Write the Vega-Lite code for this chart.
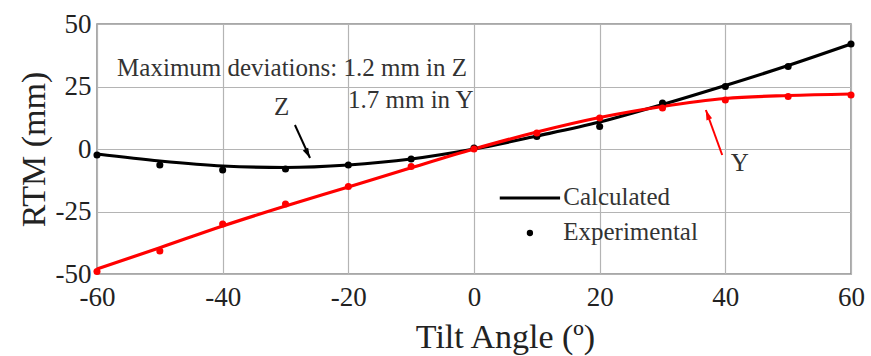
{
  "$schema": "https://vega.github.io/schema/vega-lite/v6.json",
  "width": 754,
  "height": 250,
  "autosize": "none",
  "padding": {"left": 97, "top": 24, "right": 20, "bottom": 82},
  "background": "white",
  "config": {
    "view": {"stroke": "#8c8c8c", "strokeWidth": 1.5},
    "font": "Liberation Serif",
    "axis": {
      "grid": true, "gridColor": "#b4b4b4", "gridWidth": 1.2, "gridOpacity": 1,
      "domain": false, "ticks": false,
      "labelFont": "Liberation Serif", "labelFontSize": 27, "labelColor": "#222",
      "labelFlush": false, "labelOverlap": false, "labelBound": false,
      "labelExpr": "replace(datum.label, '\u2212', '-')",
      "titleFont": "Liberation Serif", "titleFontSize": 34, "titleFontWeight": "normal", "titleColor": "#222"
    }
  },
  "datasets": {
    "calc": [
      {"angle": -60, "rtm": -2.0, "series": "Z"},
      {"angle": -50, "rtm": -4.8, "series": "Z"},
      {"angle": -40, "rtm": -6.8, "series": "Z"},
      {"angle": -30, "rtm": -7.4, "series": "Z"},
      {"angle": -20, "rtm": -6.4, "series": "Z"},
      {"angle": -10, "rtm": -4.0, "series": "Z"},
      {"angle": 0, "rtm": 0.0, "series": "Z"},
      {"angle": 10, "rtm": 5.2, "series": "Z"},
      {"angle": 20, "rtm": 10.8, "series": "Z"},
      {"angle": 30, "rtm": 17.8, "series": "Z"},
      {"angle": 40, "rtm": 25.4, "series": "Z"},
      {"angle": 50, "rtm": 33.4, "series": "Z"},
      {"angle": 60, "rtm": 42.0, "series": "Z"},
      {"angle": -60, "rtm": -48.0, "series": "Y"},
      {"angle": -50, "rtm": -39.5, "series": "Y"},
      {"angle": -40, "rtm": -30.8, "series": "Y"},
      {"angle": -30, "rtm": -22.8, "series": "Y"},
      {"angle": -20, "rtm": -15.2, "series": "Y"},
      {"angle": -10, "rtm": -7.5, "series": "Y"},
      {"angle": 0, "rtm": 0.0, "series": "Y"},
      {"angle": 10, "rtm": 6.8, "series": "Y"},
      {"angle": 20, "rtm": 12.6, "series": "Y"},
      {"angle": 30, "rtm": 17.0, "series": "Y"},
      {"angle": 40, "rtm": 20.2, "series": "Y"},
      {"angle": 50, "rtm": 21.4, "series": "Y"},
      {"angle": 60, "rtm": 22.0, "series": "Y"}
    ],
    "exp": [
      {"angle": -60, "rtm": -2.4, "series": "Z"},
      {"angle": -50, "rtm": -6.4, "series": "Z"},
      {"angle": -40, "rtm": -8.4, "series": "Z"},
      {"angle": -30, "rtm": -8.0, "series": "Z"},
      {"angle": -20, "rtm": -6.4, "series": "Z"},
      {"angle": -10, "rtm": -4.0, "series": "Z"},
      {"angle": 0, "rtm": 0.4, "series": "Z"},
      {"angle": 10, "rtm": 5.0, "series": "Z"},
      {"angle": 20, "rtm": 9.0, "series": "Z"},
      {"angle": 30, "rtm": 18.4, "series": "Z"},
      {"angle": 40, "rtm": 25.0, "series": "Z"},
      {"angle": 50, "rtm": 33.0, "series": "Z"},
      {"angle": 60, "rtm": 42.0, "series": "Z"},
      {"angle": -60, "rtm": -49.0, "series": "Y"},
      {"angle": -50, "rtm": -40.8, "series": "Y"},
      {"angle": -40, "rtm": -30.0, "series": "Y"},
      {"angle": -30, "rtm": -22.0, "series": "Y"},
      {"angle": -20, "rtm": -15.0, "series": "Y"},
      {"angle": -10, "rtm": -7.0, "series": "Y"},
      {"angle": 0, "rtm": 0.0, "series": "Y"},
      {"angle": 10, "rtm": 6.4, "series": "Y"},
      {"angle": 20, "rtm": 12.4, "series": "Y"},
      {"angle": 30, "rtm": 16.4, "series": "Y"},
      {"angle": 40, "rtm": 19.6, "series": "Y"},
      {"angle": 50, "rtm": 21.0, "series": "Y"},
      {"angle": 60, "rtm": 21.6, "series": "Y"}
    ],
    "arrows": [
      {"series": "Z", "x0": -28.5, "y0": 9.6, "x1": -26.1, "y1": -3.6},
      {"series": "Y", "x0": 39.5, "y0": -2.4, "x1": 36.9, "y1": 15.6}
    ],
    "labels": [
      {"text": "Maximum deviations: 1.2 mm in Z", "x": -56.8, "y": 32.4},
      {"text": "1.7 mm in Y", "x": -20.05, "y": 19.6}
    ],
    "seriesLabels": [
      {"text": "Z", "x": -30.6, "y": 16.8},
      {"text": "Y", "x": 42.3, "y": -5.6}
    ],
    "legendLine": [
      {"x0": 4.1, "x1": 13.7, "y": -19.6}
    ],
    "legendDot": [
      {"x": 8.9, "y": -33.6}
    ],
    "legendText": [
      {"text": "Calculated", "x": 14.2, "y": -19.2},
      {"text": "Experimental", "x": 14.2, "y": -33.2}
    ]
  },
  "layer": [
    {
      "data": {"name": "calc"},
      "mark": {"type": "line", "interpolate": "monotone", "strokeWidth": 3.2},
      "encoding": {
        "x": {"field": "angle", "type": "quantitative",
              "scale": {"domain": [-60, 60], "nice": false},
              "axis": {"values": [-60, -40, -20, 0, 20, 40, 60], "title": "Tilt Angle (º)", "labelPadding": 10, "titleX": 408, "titleY": 73, "titleBaseline": "alphabetic", "titleAnchor": "middle"}},
        "y": {"field": "rtm", "type": "quantitative",
              "scale": {"domain": [-50, 50], "nice": false},
              "axis": {"values": [-50, -25, 0, 25, 50], "title": "RTM (mm)", "labelPadding": 6, "titlePadding": 4}},
        "color": {"field": "series", "type": "nominal", "scale": {"domain": ["Z", "Y"], "range": ["#000000", "#ff0000"]}, "legend": null},
        "detail": {"field": "series"}
      }
    },
    {
      "data": {"name": "exp"},
      "mark": {"type": "circle", "size": 50, "opacity": 1},
      "encoding": {
        "x": {"field": "angle", "type": "quantitative"},
        "y": {"field": "rtm", "type": "quantitative"},
        "color": {"field": "series", "type": "nominal", "legend": null}
      }
    },
    {
      "data": {"name": "arrows"},
      "mark": {"type": "rule", "strokeWidth": 2},
      "encoding": {
        "x": {"field": "x0", "type": "quantitative"},
        "y": {"field": "y0", "type": "quantitative"},
        "x2": {"field": "x1"},
        "y2": {"field": "y1"},
        "color": {"field": "series", "type": "nominal", "legend": null}
      }
    },
    {
      "data": {"name": "arrows"},
      "transform": [{"filter": "datum.series === 'Z'"}],
      "mark": {"type": "point", "shape": "M0,0L0.6,2L-0.6,2Z", "filled": true, "opacity": 1, "size": 100, "angle": 153, "color": "#000000"},
      "encoding": {
        "x": {"field": "x1", "type": "quantitative"},
        "y": {"field": "y1", "type": "quantitative"}
      }
    },
    {
      "data": {"name": "arrows"},
      "transform": [{"filter": "datum.series === 'Y'"}],
      "mark": {"type": "point", "shape": "M0,0L0.6,2L-0.6,2Z", "filled": true, "opacity": 1, "size": 100, "angle": 340, "color": "#ff0000"},
      "encoding": {
        "x": {"field": "x1", "type": "quantitative"},
        "y": {"field": "y1", "type": "quantitative"}
      }
    },
    {
      "data": {"name": "labels"},
      "mark": {"type": "text", "align": "left", "baseline": "middle", "fontSize": 25, "font": "Liberation Serif", "color": "#333"},
      "encoding": {
        "x": {"field": "x", "type": "quantitative"},
        "y": {"field": "y", "type": "quantitative"},
        "text": {"field": "text"}
      }
    },
    {
      "data": {"name": "seriesLabels"},
      "mark": {"type": "text", "align": "center", "baseline": "middle", "fontSize": 25, "font": "Liberation Serif", "color": "#333"},
      "encoding": {
        "x": {"field": "x", "type": "quantitative"},
        "y": {"field": "y", "type": "quantitative"},
        "text": {"field": "text"}
      }
    },
    {
      "data": {"name": "legendLine"},
      "mark": {"type": "rule", "strokeWidth": 3.2, "color": "#000000"},
      "encoding": {
        "x": {"field": "x0", "type": "quantitative"},
        "x2": {"field": "x1"},
        "y": {"field": "y", "type": "quantitative"}
      }
    },
    {
      "data": {"name": "legendDot"},
      "mark": {"type": "circle", "size": 40, "opacity": 1, "color": "#000000"},
      "encoding": {
        "x": {"field": "x", "type": "quantitative"},
        "y": {"field": "y", "type": "quantitative"}
      }
    },
    {
      "data": {"name": "legendText"},
      "mark": {"type": "text", "align": "left", "baseline": "middle", "fontSize": 25, "font": "Liberation Serif", "color": "#333"},
      "encoding": {
        "x": {"field": "x", "type": "quantitative"},
        "y": {"field": "y", "type": "quantitative"},
        "text": {"field": "text"}
      }
    }
  ]
}
